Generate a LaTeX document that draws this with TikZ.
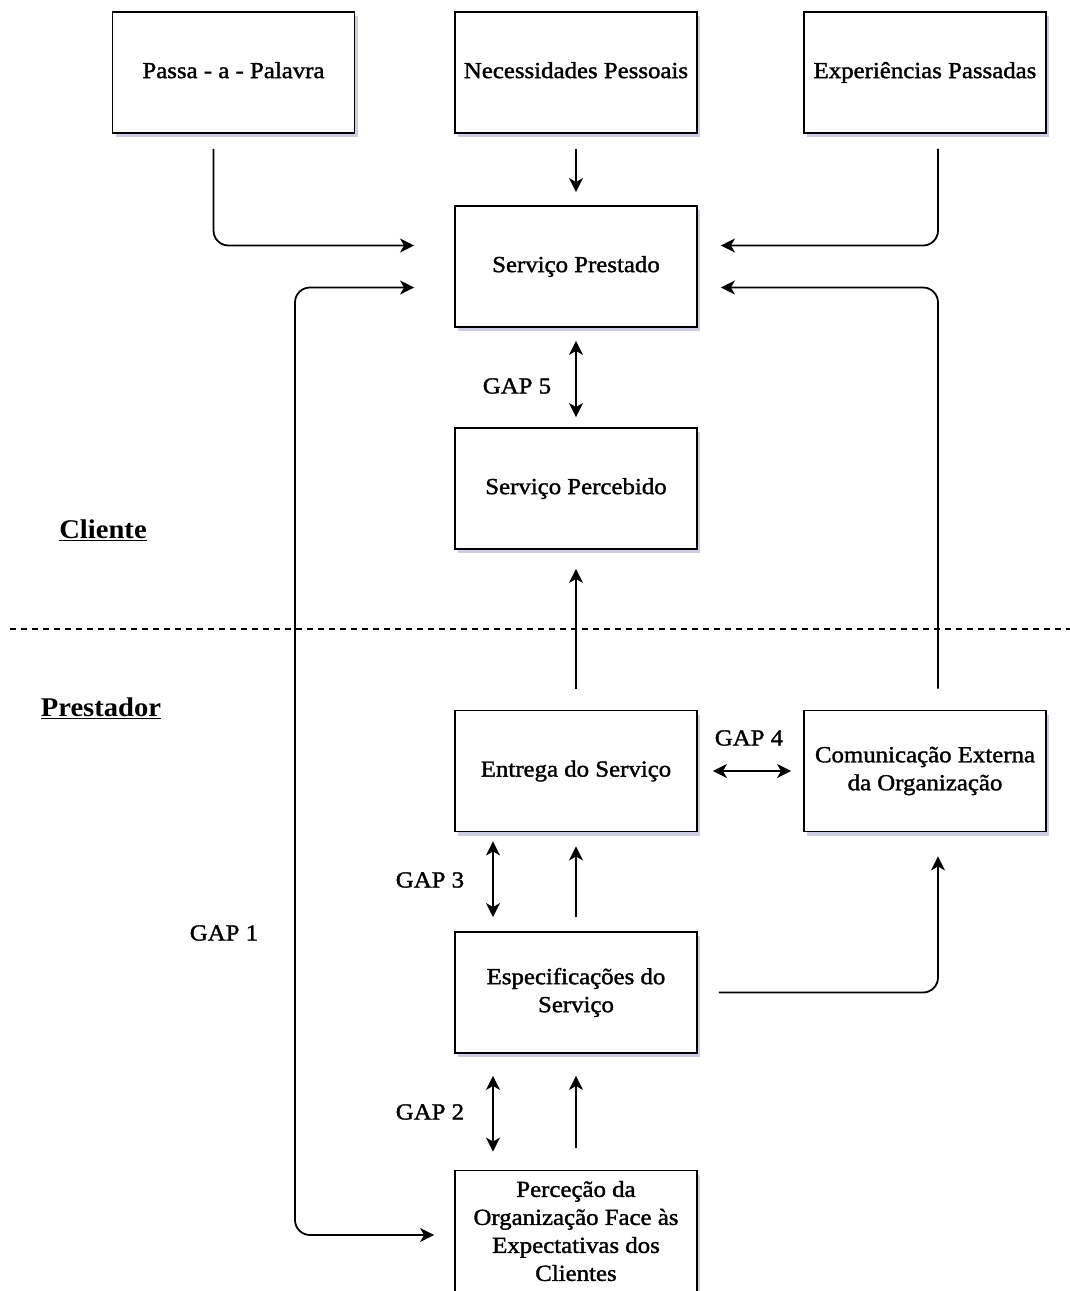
\documentclass[tikz,border=0pt]{standalone}
\usepackage{fontspec}
\setmainfont{Liberation Serif}
\newfontfamily\boxfont{Liberation Serif}[FakeBold=1.5, FakeStretch=1.08]
\newfontfamily\sidefont{Liberation Serif Bold}[FakeStretch=1.06]
\usetikzlibrary{arrows.meta, positioning, calc, shadows}

\begin{document}
\begin{tikzpicture}[x=1pt, y=-1pt,
    box/.style={draw, line width=1.9pt, fill=white, minimum width=242pt, minimum height=121pt,
        align=center, inner sep=2pt, font=\boxfont\fontsize{23}{28}\selectfont,
        drop shadow={shadow xshift=3pt, shadow yshift=-4pt, fill=blue!30!gray, opacity=0.3}},
    arr/.style={line width=1.8pt, -{Stealth[length=14pt, width=14pt, inset=4pt]}},
    darr/.style={line width=1.8pt, {Stealth[length=14pt, width=14pt, inset=4pt]}-{Stealth[length=14pt, width=14pt, inset=4pt]}},
    gap/.style={font=\boxfont\fontsize{23}{28}\selectfont},
    side/.style={font=\sidefont\fontsize{27}{30}\selectfont}
]
\useasboundingbox (0,0) rectangle (1070,1291);

% cliente
\node[box] (pas) at (233.5,72.5) {\strut Passa - a - Palavra};
\node[box] (nec) at (576,72.5) {\strut Necessidades Pessoais};
\node[box] (exp) at (925,72.5) {\strut Experiências Passadas};
\node[box] (pre) at (576,266.5) {\strut Serviço Prestado};
\node[box] (per) at (576,488.5) {\strut Serviço Percebido};

% prestador
\node[box] (ent) at (576,771) {\strut Entrega do Serviço};
\node[box] (com) at (925,771) {Comunicação Externa\\da Organização};
\node[box] (esp) at (576,992.5) {Especificações do\\Serviço};
\node[box] (perc) at (576,1231) {Perceção da\\Organização Face às\\Expectativas dos\\Clientes};

\node[side] (cli) at (103,530) {\underline{Cliente}};
\node[side] (prs) at (101,708) {\underline{Prestador}};
\draw[line width=1.2pt, dash pattern=on 6pt off 5pt] (10,629) -- (1070,629);

\node[gap] (g5) at (517,386) {GAP 5};
\node[gap] (g4) at (749,738) {GAP 4};
\node[gap] (g3) at (430,880) {GAP 3};
\node[gap] (g2) at (430,1112) {GAP 2};
\node[gap] (g1) at (224,933) {GAP 1};
\coordinate (left) at (295,700);

\draw[arr, rounded corners=15pt, shorten <=15pt, shorten >=40pt] ([xshift=-20pt]pas.south) |- ([yshift=21pt]pre.west);
\draw[arr, shorten <=15pt, shorten >=13pt] (nec) -- (pre);
\draw[arr, rounded corners=15pt, shorten <=15pt, shorten >=23pt] ([xshift=13pt]exp.south) |- ([yshift=21pt]pre.east);
\draw[darr, rounded corners=15pt, shorten <=40pt, shorten >=20pt] ([yshift=-21pt]pre.west) -| (left) |- ([yshift=-4pt]perc.west);
\draw[arr, rounded corners=15pt, shorten <=21pt, shorten >=23pt] ([xshift=13pt]com.north) |- ([yshift=-21pt]pre.east);
\draw[darr, shorten <=13pt, shorten >=10pt] (pre) -- (per);
\draw[arr, shorten <=21pt, shorten >=19pt] (ent) -- (per);
\draw[darr, shorten <=15pt, shorten >=12pt] (ent) -- (com);
\draw[darr, shorten <=9pt, shorten >=14pt] ([xshift=-83pt]ent.south) -- ([xshift=-83pt]esp.north);
\draw[arr, shorten <=14pt, shorten >=14pt] (esp) -- (ent);
\draw[arr, rounded corners=15pt, shorten <=21pt, shorten >=24pt] (esp.east) -| ([xshift=13pt]com.south);
\draw[darr, shorten <=22pt, shorten >=18pt] ([xshift=-83pt]esp.south) -- ([xshift=-83pt]perc.north);
\draw[arr, shorten <=22pt, shorten >=22pt] (perc) -- (esp);
\end{tikzpicture}
\end{document}
